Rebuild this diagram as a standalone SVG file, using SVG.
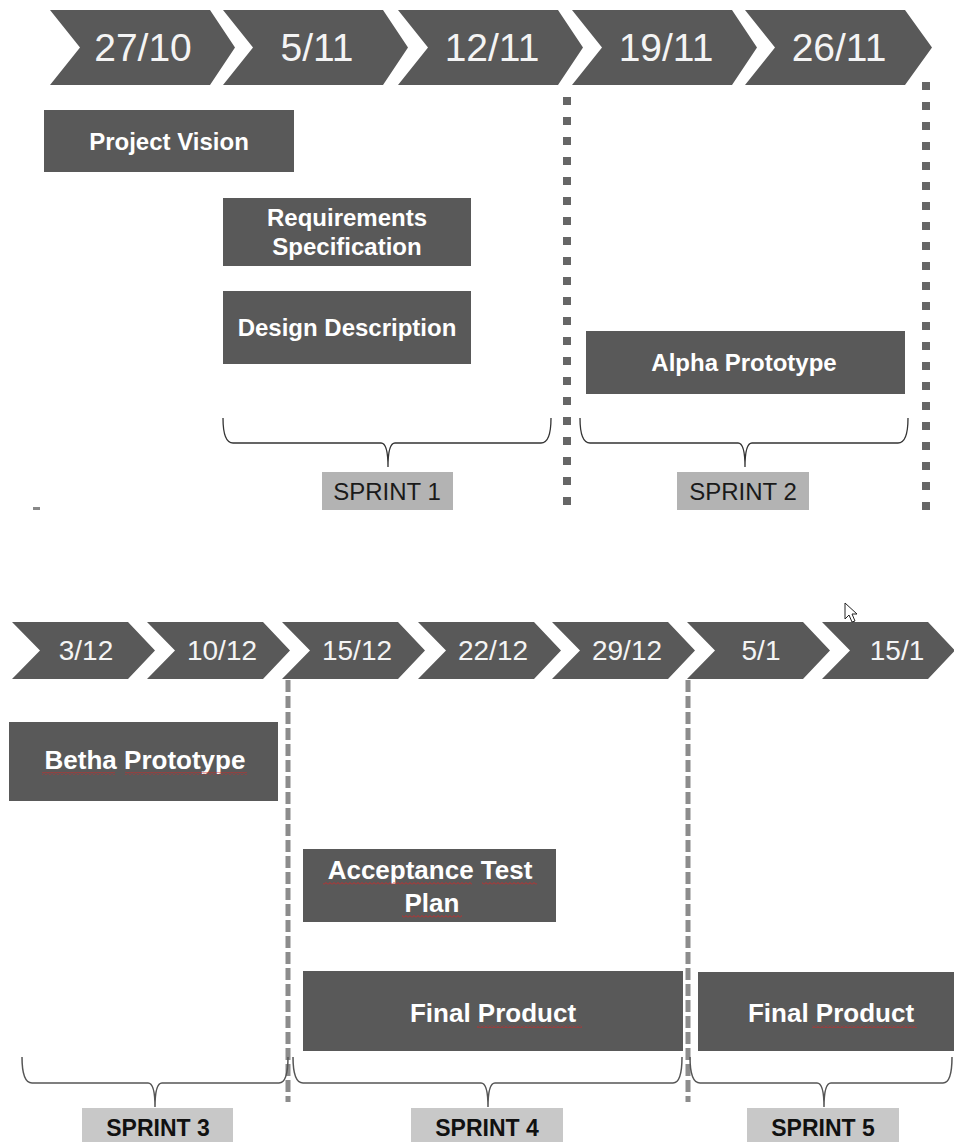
<svg xmlns="http://www.w3.org/2000/svg" width="954" height="1142" viewBox="0 0 954 1142">
<defs>
<style>
.chev{fill:#595959}
.d1{font-family:"Liberation Sans",Arial,sans-serif;font-size:39px;fill:#f4f4f4;text-anchor:middle}
.d2{font-family:"Liberation Sans",Arial,sans-serif;font-size:28px;fill:#f4f4f4;text-anchor:middle}
.box{fill:#595959}
.bt{font-family:"Liberation Sans",Arial,sans-serif;font-weight:bold;font-size:24px;fill:#ffffff;text-anchor:middle}
.bt2{font-family:"Liberation Sans",Arial,sans-serif;font-weight:bold;font-size:26px;fill:#ffffff;text-anchor:middle}
.lab1{fill:#b3b3b3}
.lab2{fill:#c8c8c8}
.lt1{font-family:"Liberation Sans",Arial,sans-serif;font-size:24px;fill:#1a1a1a;text-anchor:middle}
.lt2{font-family:"Liberation Sans",Arial,sans-serif;font-weight:bold;font-size:23px;fill:#111111;text-anchor:middle}
.brace{fill:none;stroke:#333333;stroke-width:1.3}
.brace2{fill:none;stroke:#555555;stroke-width:1.5}
.dots{stroke:#666666;stroke-width:8;stroke-dasharray:8 12;fill:none}
.dash{stroke:#8c8c8c;stroke-width:5;stroke-dasharray:12 4;fill:none}
.sq{fill:url(#squig)}
</style>
<pattern id="squig" x="0" y="0" width="4" height="3" patternUnits="userSpaceOnUse">
<path d="M0,2.5 L2,0.5 L4,2.5" fill="none" stroke="#d02828" stroke-width="0.9"/>
</pattern>
</defs>
<rect width="954" height="1142" fill="#ffffff"/>

<g id="timeline-top">
<g id="chev-2710"><polygon class="chev" points="50,10 210,10 235,47.5 210,85 50,85 80,47.5"/><text class="d1" x="143" y="61">27/10</text></g>
<g id="chev-511"><polygon class="chev" points="223,10 383,10 408,47.5 383,85 223,85 253,47.5"/><text class="d1" x="317" y="61">5/11</text></g>
<g id="chev-1211"><polygon class="chev" points="398,10 558,10 583,47.5 558,85 398,85 428,47.5"/><text class="d1" x="492" y="61">12/11</text></g>
<g id="chev-1911"><polygon class="chev" points="572,10 732,10 757,47.5 732,85 572,85 602,47.5"/><text class="d1" x="666" y="61">19/11</text></g>
<g id="chev-2611"><polygon class="chev" points="745,10 905,10 932,47.5 905,85 745,85 775,47.5"/><text class="d1" x="839" y="61">26/11</text></g>
</g>

<g id="timeline-bottom">
<g id="chev-312"><polygon class="chev" points="12,622 128,622 155,650.5 128,679 12,679 40,650.5"/><text class="d2" x="86" y="660">3/12</text></g>
<g id="chev-1012"><polygon class="chev" points="147,622 263,622 290,650.5 263,679 147,679 175,650.5"/><text class="d2" x="222" y="660">10/12</text></g>
<g id="chev-1512"><polygon class="chev" points="282,622 398,622 425,650.5 398,679 282,679 310,650.5"/><text class="d2" x="357" y="660">15/12</text></g>
<g id="chev-2212"><polygon class="chev" points="418,622 534,622 561,650.5 534,679 418,679 446,650.5"/><text class="d2" x="493" y="660">22/12</text></g>
<g id="chev-2912"><polygon class="chev" points="552,622 668,622 695,650.5 668,679 552,679 580,650.5"/><text class="d2" x="627" y="660">29/12</text></g>
<g id="chev-51"><polygon class="chev" points="687,622 803,622 830,650.5 803,679 687,679 715,650.5"/><text class="d2" x="761" y="660">5/1</text></g>
<g id="chev-151"><polygon class="chev" points="822,622 928,622 955,650.5 928,679 822,679 850,650.5"/><text class="d2" x="897" y="660">15/1</text></g>
</g>

<g id="connectors">
<line class="dots" x1="567" y1="97" x2="567" y2="512"/>
<line class="dots" x1="926" y1="82" x2="926" y2="512"/>
<line class="dash" x1="288" y1="680" x2="288" y2="1102"/>
<line class="dash" x1="688" y1="680" x2="688" y2="1102"/>
<path class="brace" d="M223,418 Q223,443 233,443 H381 Q388,443 388,467 Q388,443 395,443 H541 Q551,443 551,418"/>
<path class="brace" d="M580,418 Q580,443 590,443 H738 Q745,443 745,467 Q745,443 752,443 H898 Q908,443 908,418"/>
<path class="brace2" d="M22,1057 Q22,1083 32,1083 H148 Q155,1083 155,1107 Q155,1083 162,1083 H279 Q288,1083 288,1057"/>
<path class="brace2" d="M293,1057 Q293,1083 303,1083 H481 Q488,1083 488,1107 Q488,1083 495,1083 H673 Q682,1083 682,1057"/>
<path class="brace2" d="M690,1057 Q690,1083 700,1083 H817 Q824,1083 824,1107 Q824,1083 831,1083 H943 Q952,1083 952,1057"/>
</g>

<g id="project-vision"><rect class="box" x="44" y="110" width="250" height="62"/><text class="bt" x="169" y="150">Project Vision</text></g>
<g id="requirements-spec"><rect class="box" x="223" y="198" width="248" height="68"/><text class="bt" x="347" y="226">Requirements</text><text class="bt" x="347" y="255">Specification</text></g>
<g id="design-description"><rect class="box" x="223" y="291" width="248" height="73"/><text class="bt" x="347" y="336">Design Description</text></g>
<g id="alpha-prototype"><rect class="box" x="586" y="331" width="319" height="63"/><text class="bt" x="744" y="371">Alpha Prototype</text></g>

<g id="sprint-1"><rect class="lab1" x="322" y="472" width="131" height="38"/><text class="lt1" x="387" y="500">SPRINT 1</text></g>
<g id="sprint-2"><rect class="lab1" x="677" y="472" width="132" height="38"/><text class="lt1" x="743" y="500">SPRINT 2</text></g>

<g id="betha-prototype"><rect class="box" x="9" y="722" width="269" height="79"/><text class="bt2" x="145" y="769">Betha Prototype</text>
<rect class="sq" x="42" y="772" width="73" height="3"/><rect class="sq" x="125" y="772" width="122" height="3"/></g>
<g id="acceptance-test-plan"><rect class="box" x="303" y="849" width="253" height="73"/><text class="bt2" x="430" y="879">Acceptance Test</text><text class="bt2" x="432" y="912">Plan</text>
<rect class="sq" x="323" y="882" width="149" height="3"/><rect class="sq" x="482" y="882" width="55" height="3"/><rect class="sq" x="402" y="915" width="60" height="3"/></g>
<g id="final-product-4"><rect class="box" x="303" y="971" width="380" height="80"/><text class="bt2" x="493" y="1022">Final Product</text>
<rect class="sq" x="477" y="1025" width="105" height="3"/></g>
<g id="final-product-5"><rect class="box" x="698" y="972" width="256" height="79"/><text class="bt2" x="831" y="1022">Final Product</text>
<rect class="sq" x="812" y="1025" width="105" height="3"/></g>

<g id="sprint-3"><rect class="lab2" x="82" y="1108" width="151" height="34"/><text class="lt2" x="158" y="1136">SPRINT 3</text></g>
<g id="sprint-4"><rect class="lab2" x="411" y="1108" width="152" height="34"/><text class="lt2" x="487" y="1136">SPRINT 4</text></g>
<g id="sprint-5"><rect class="lab2" x="747" y="1108" width="152" height="34"/><text class="lt2" x="823" y="1136">SPRINT 5</text></g>

<rect x="33" y="507" width="7" height="3" fill="#888888"/>
<path d="M845,603 L845,619 L849,615 L852,622 L855,621 L852,614 L857,614 Z" fill="#ffffff" stroke="#222222" stroke-width="1"/>
</svg>
